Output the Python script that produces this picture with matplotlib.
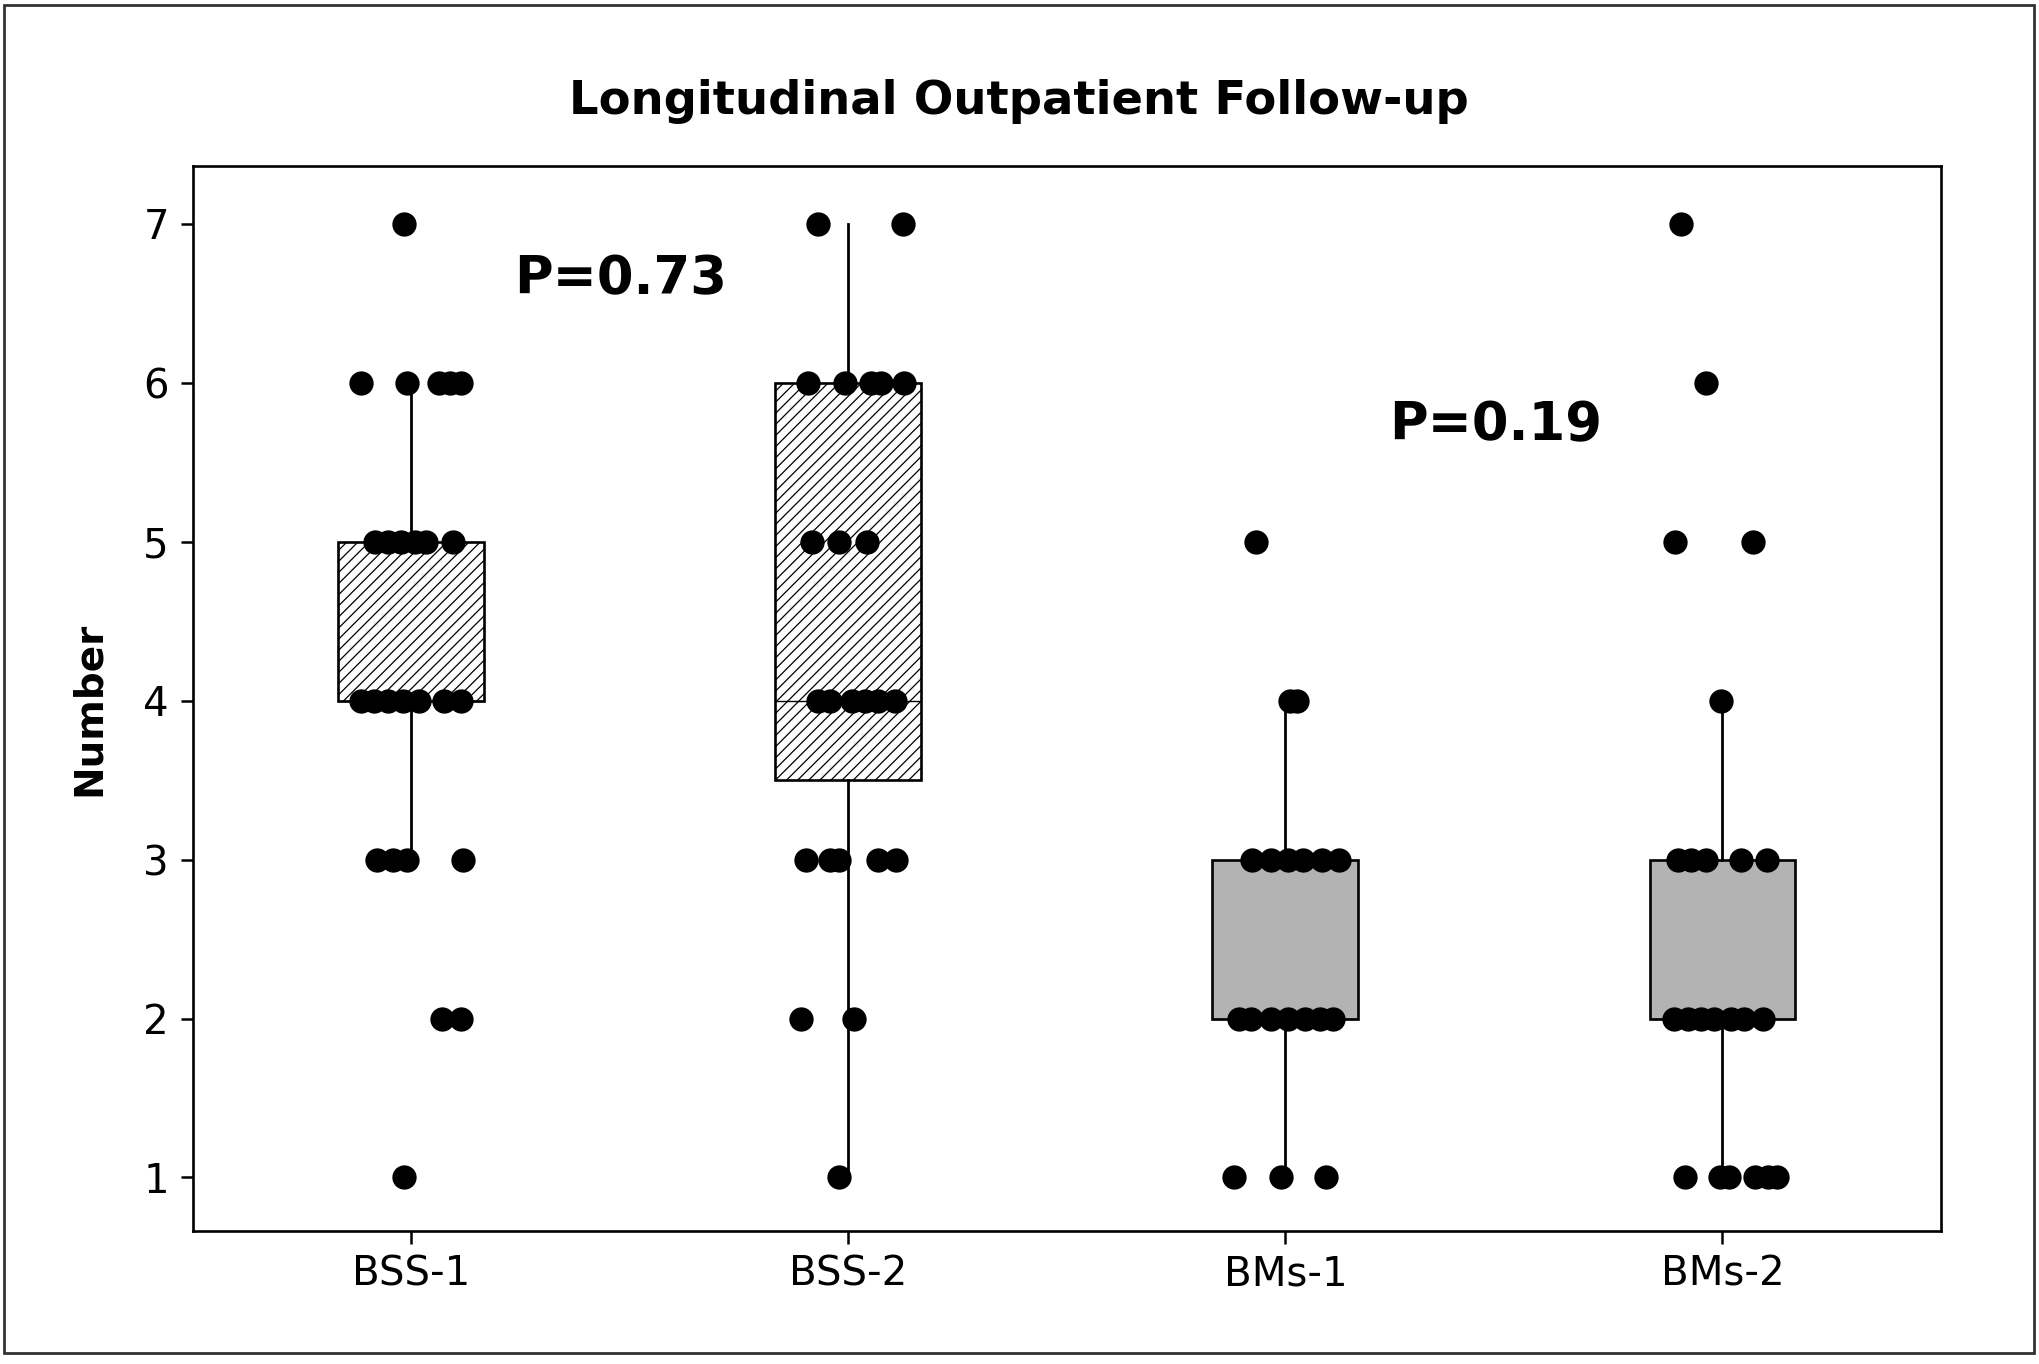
import numpy as np
import matplotlib
matplotlib.use("Agg")
import matplotlib.pyplot as plt
from matplotlib.patches import Rectangle

# --- data ---
groups = ['BSS-1', 'BSS-2', 'BMs-1', 'BMs-2']

bss1_values = [7,
               6, 6, 6, 6, 6,
               5, 5, 5, 5, 5, 5,
               4, 4, 4, 4, 4, 4, 4,
               3, 3, 3, 3,
               2, 2,
               1]
bss1_jitter = [-0.017,
               -0.115, -0.010, 0.064, 0.088, 0.114,
               -0.083, -0.054, -0.023, 0.008, 0.034, 0.095,
               -0.115, -0.084, -0.054, -0.019, 0.018, 0.076, 0.114,
               -0.079, -0.042, -0.010, 0.119,
               0.070, 0.113,
               -0.017]

bss2_values = [7, 7,
               6, 6, 6, 6, 6,
               5, 5, 5,
               4, 4, 4, 4, 4, 4,
               3, 3, 3, 3, 3,
               2, 2,
               1]
bss2_jitter = [-0.069, 0.125,
               -0.092, -0.008, 0.053, 0.076, 0.128,
               -0.084, -0.021, 0.044,
               -0.070, -0.042, 0.008, 0.038, 0.069, 0.107,
               -0.096, -0.042, -0.021, 0.067, 0.109,
               -0.109, 0.014,
               -0.021]

bms1_values = [5,
               4, 4,
               3, 3, 3, 3, 3, 3,
               2, 2, 2, 2, 2, 2, 2,
               1, 1, 1]
bms1_jitter = [-0.068,
               0.011, 0.027,
               -0.076, -0.032, 0.006, 0.041, 0.083, 0.123,
               -0.107, -0.078, -0.032, 0.006, 0.044, 0.079, 0.108,
               -0.118, -0.011, 0.094]

bms2_values = [7,
               6,
               5, 5,
               4,
               3, 3, 3, 3, 3,
               2, 2, 2, 2, 2, 2, 2,
               1, 1, 1, 1, 1, 1]
bms2_jitter = [-0.094,
               -0.038,
               -0.109, 0.069,
               -0.004,
               -0.102, -0.073, -0.038, 0.042, 0.102,
               -0.111, -0.080, -0.050, -0.019, 0.019, 0.050, 0.092,
               -0.086, -0.006, 0.015, 0.074, 0.103, 0.125]

all_values = [bss1_values, bss2_values, bms1_values, bms2_values]
all_jitter = [bss1_jitter, bss2_jitter, bms1_jitter, bms2_jitter]

# box summaries as drawn
box_q1 = [4, 3.5, 2, 2]
box_med = [4, 4, 2, 2]
box_q3 = [5, 6, 3, 3]
whisk_lo = [3, 1, 1, 1]
whisk_hi = [6, 7, 4, 4]

p_labels = ['P=0.73', 'P=0.19']
p_pos = [(1.48, 6.65), (3.48, 5.73)]

# --- figure ---
fig = plt.figure(figsize=(20.4, 13.64), dpi=100)
ax = fig.add_axes([0.0944, 0.0977, 0.8571, 0.7803])

stats = []
for i, name in enumerate(groups):
    stats.append(dict(label=name, q1=box_q1[i], med=box_med[i], q3=box_q3[i],
                      whislo=whisk_lo[i], whishi=whisk_hi[i], fliers=[]))

plt.rcParams['hatch.linewidth'] = 0.9
bp = ax.bxp(stats, positions=[1, 2, 3, 4], widths=0.334, patch_artist=True,
            showfliers=False, showcaps=False,
            boxprops=dict(linewidth=1.9, edgecolor='black'),
            whiskerprops=dict(linewidth=2.0, color='black'),
            medianprops=dict(linewidth=1.0, color='black'))
for i, box in enumerate(bp['boxes']):
    if i < 2:
        box.set_facecolor('white')
        box.set_hatch('///')
    else:
        box.set_facecolor('#b3b3b3')
    box.set_zorder(2)

for i in range(4):
    xs = np.array(all_jitter[i]) + (i + 1)
    ax.plot(xs, all_values[i], 'o', color='black', ms=17.5,
            markeredgewidth=0, zorder=4, clip_on=False)

for lab, (px, py) in zip(p_labels, p_pos):
    ax.text(px, py, lab, fontsize=38, fontweight='bold', ha='center', va='center')

ax.set_xlim(0.5, 4.5)
ax.set_ylim(0.665, 7.36)
ax.set_xticks([1, 2, 3, 4])
ax.set_xticklabels(groups)
ax.set_yticks(range(1, 8))
ax.tick_params(axis='both', labelsize=29, length=9, width=1.8, direction='out', pad=8)
for sp in ax.spines.values():
    sp.set_linewidth(1.9)

fig.text(0.4995, 0.9256, 'Longitudinal Outpatient Follow-up', fontsize=33.5,
         fontweight='bold', ha='center', va='center')
fig.text(0.0434, 0.48, 'Number', fontsize=28, fontweight='bold', rotation=90,
         ha='center', va='center')

# outer frame
fig.patches.append(Rectangle((0.002, 0.008), 0.995, 0.988, transform=fig.transFigure,
                             fill=False, edgecolor='#333333', linewidth=2))

fig.savefig('out.png', dpi=100)
